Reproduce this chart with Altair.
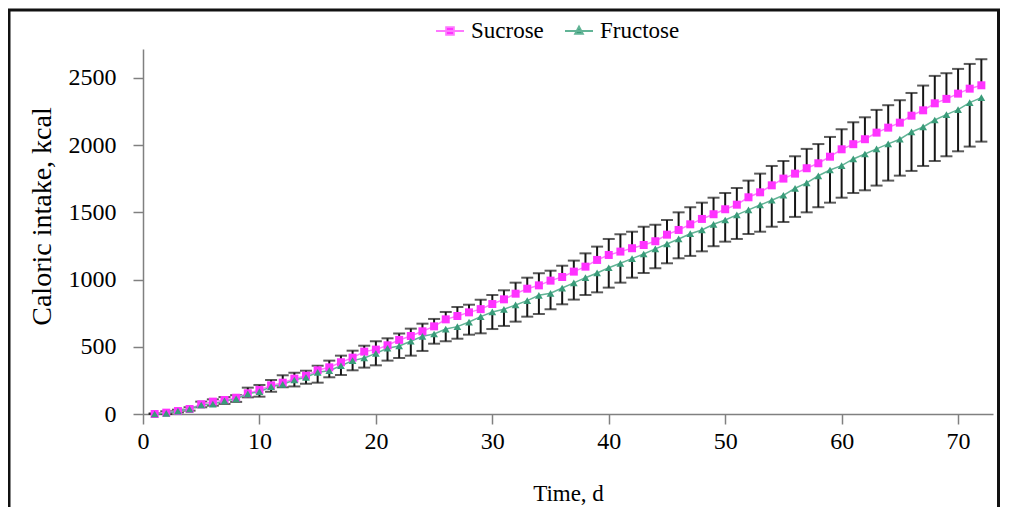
import altair as alt
import pandas as pd

days = list(range(1, 73))
series_names = ["Sucrose", "Fructose"]

sucrose = [0, 10, 22, 37, 72, 92, 104, 121, 154, 179, 213, 233, 263, 285, 325,
           347, 385, 419, 464, 479, 511, 551, 580, 615, 652, 704, 729, 756, 780, 818,
           853, 895, 932, 957, 992, 1019, 1059, 1096, 1146, 1183, 1208, 1233, 1257, 1285,
           1334, 1369, 1411, 1451, 1486, 1523, 1557, 1612, 1649, 1701, 1751, 1788, 1828,
           1865, 1914, 1969, 2007, 2044, 2093, 2130, 2167, 2219, 2259, 2311, 2344, 2383,
           2420, 2445]
sucrose_upper = [5, 20, 32, 50, 92, 109, 126, 140, 196, 216, 253, 288, 307, 322, 359,
                 397, 434, 471, 508, 541, 563, 598, 635, 672, 707, 759, 796, 813, 850, 885,
                 920, 977, 1014, 1047, 1066, 1103, 1141, 1195, 1245, 1302, 1337, 1356, 1393,
                 1408, 1443, 1500, 1538, 1572, 1609, 1644, 1681, 1736, 1788, 1845, 1882, 1917,
                 1972, 2008, 2061, 2118, 2170, 2207, 2262, 2297, 2334, 2388, 2443, 2515, 2535,
                 2567, 2604, 2639]
fructose = [0, 5, 22, 37, 67, 74, 97, 112, 150, 166, 203, 221, 253, 273, 310,
            322, 359, 397, 417, 451, 489, 506, 541, 578, 595, 632, 650, 684, 724, 759,
            779, 811, 843, 883, 898, 937, 975, 1014, 1049, 1088, 1121, 1156, 1190, 1228,
            1265, 1302, 1341, 1369, 1411, 1443, 1481, 1518, 1555, 1590, 1627, 1679, 1719,
            1772, 1815, 1847, 1897, 1934, 1972, 2009, 2044, 2098, 2135, 2187, 2227, 2264,
            2316, 2353]
fructose_lower = [0, 0, 12, 25, 50, 62, 75, 90, 124, 129, 166, 199, 205, 225, 233,
                  273, 290, 325, 345, 362, 397, 417, 434, 469, 523, 541, 560, 590, 600, 632,
                  655, 687, 724, 744, 779, 816, 851, 885, 905, 940, 977, 1014, 1049, 1085,
                  1121, 1158, 1176, 1210, 1248, 1282, 1302, 1339, 1356, 1393, 1428, 1466,
                  1500, 1538, 1572, 1609, 1644, 1664, 1699, 1736, 1773, 1808, 1845, 1882,
                  1917, 1954, 1989, 2026]

x_ticks = [0, 10, 20, 30, 40, 50, 60, 70]
y_ticks = [0, 500, 1000, 1500, 2000, 2500]

marker_colors = ["#ff33ff", "#3a9c7a"]
line_colors = ["#ff77ff", "#62b496"]

rows = []
for i, d in enumerate(days):
    rows.append({"day": d, "series": "Sucrose", "value": sucrose[i], "cap": sucrose_upper[i]})
    rows.append({"day": d, "series": "Fructose", "value": fructose[i], "cap": fructose_lower[i]})
df = pd.DataFrame(rows)

FONT = "Liberation Serif"

xscale = alt.Scale(domain=[0, 73], nice=False, zero=False)
yscale = alt.Scale(domain=[0, 2715], nice=False)

xaxis = alt.Axis(values=x_ticks, format="d", title="Time, d", grid=False, labelFlush=False,
                 labelFont=FONT, labelFontSize=24, labelColor="black", labelPadding=5,
                 titleFont=FONT, titleFontSize=23, titleFontWeight="normal", titleColor="black",
                 titleX=425, titleY=86, titleBaseline="alphabetic",
                 tickSize=10, tickColor="#808080", tickWidth=1.5,
                 domainColor="#808080", domainWidth=1.5)
yaxis = alt.Axis(values=y_ticks, format="d", title="Caloric intake, kcal", grid=False, labelFlush=False,
                 labelFont=FONT, labelFontSize=24, labelColor="black", labelPadding=17,
                 titleFont=FONT, titleFontSize=28, titleFontWeight="normal", titleColor="black",
                 titleX=-93, titleY=167, titleBaseline="alphabetic",
                 tickSize=10, tickColor="#808080", tickWidth=1.5,
                 domainColor="#808080", domainWidth=1.5)

X = alt.X("day:Q", scale=xscale, axis=xaxis)
Yv = alt.Y("value:Q", scale=yscale, axis=yaxis)
Yc = alt.Y("cap:Q", scale=yscale, axis=yaxis)

base = alt.Chart(df)

bars = base.mark_rule(color="#151515", strokeWidth=2).encode(x=X, y=Yv, y2="cap:Q")
caps = base.mark_tick(orient="horizontal", size=12, thickness=2, color="#151515").encode(x=X, y=Yc)

suc_line = base.transform_filter(alt.datum.series == "Sucrose").mark_line(
    color=line_colors[0], strokeWidth=1.5).encode(x=X, y=Yv)
fru_line = base.transform_filter(alt.datum.series == "Fructose").mark_line(
    color=line_colors[1], strokeWidth=1.5).encode(x=X, y=Yv)
suc_pts = base.transform_filter(alt.datum.series == "Sucrose").mark_point(
    shape="square", filled=True, size=64, color=marker_colors[0], opacity=1).encode(x=X, y=Yv)
fru_pts = base.transform_filter(alt.datum.series == "Fructose").mark_point(
    shape="triangle-up", filled=True, size=60, color=marker_colors[1], opacity=1).encode(x=X, y=Yv)

legend = alt.Legend(title=None, orient="none", legendX=292, legendY=-33, direction="horizontal",
                    labelFont=FONT, labelFontSize=23, labelColor="black", labelOffset=6,
                    columnPadding=17, symbolSize=784, symbolStrokeWidth=1.8, symbolOpacity=1)
shape_paths = ["M-1,0H1M-0.28,-0.28H0.28V0.28H-0.28Z",
               "M-1,0H1M0,-0.32L0.28,0.2L-0.28,0.2Z"]
legend_layer = base.mark_point(filled=True, opacity=0).encode(
    x=X, y=Yv,
    fill=alt.Fill("series:N", scale=alt.Scale(domain=series_names, range=marker_colors), legend=legend),
    stroke=alt.Stroke("series:N", scale=alt.Scale(domain=series_names, range=line_colors), legend=legend),
    shape=alt.Shape("series:N", scale=alt.Scale(domain=series_names, range=shape_paths), legend=legend),
)

frame = alt.Chart(pd.DataFrame({"a": [1]})).mark_rect(
    fill="transparent", stroke="#111111", strokeWidth=3).encode(
    x=alt.value(-134), x2=alt.value(855.5), y=alt.value(-39), y2=alt.value(520))

chart = alt.layer(frame, bars, caps, suc_line, fru_line, suc_pts, fru_pts, legend_layer).properties(
    width=850, height=365,
    padding={"left": 135, "top": 41, "right": 8, "bottom": 110},
    autosize=alt.AutoSizeParams(type="none"),
    background="white",
).configure_view(strokeWidth=0)

chart.save("out.html", embed_options={"renderer": "svg", "actions": False})
